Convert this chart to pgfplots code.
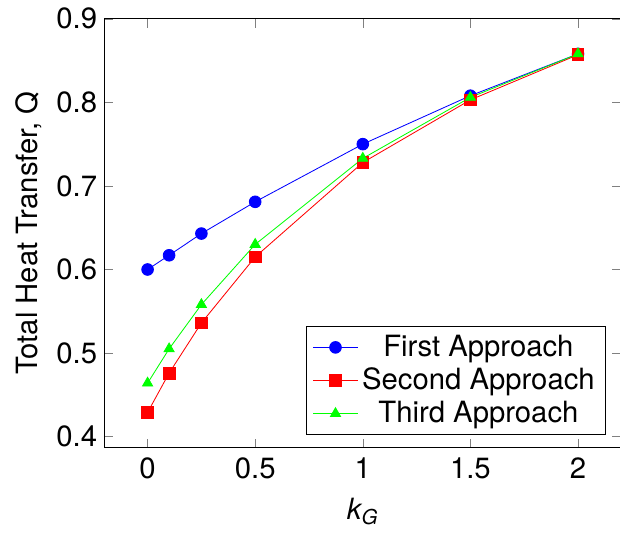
\documentclass[border=0pt]{standalone}
\usepackage{fontspec}
\setmainfont{TeX Gyre Heros}
\usepackage{pgfplots}
\pgfplotsset{compat=1.18}
\usetikzlibrary{calc}

\begin{document}
\begin{tikzpicture}[font=\fontsize{14}{17}\selectfont]
\begin{axis}[scale only axis,width=247pt,height=205pt,
  xmin=-0.2,xmax=2.2,ymin=0.387,ymax=0.9,
  xtick={0,0.5,1,1.5,2},ytick={0.4,0.5,0.6,0.7,0.8,0.9},
  /pgf/number format/assume math mode=true,
  tick label style={font=\fontsize{14}{17}\selectfont},
  label style={font=\fontsize{14}{17}\selectfont},
  x tick label style={yshift=-1.5pt},
  xlabel={\itshape k\textsubscript{G}},ylabel={Total Heat Transfer, Q},
  xlabel style={yshift=-2pt},
  legend pos=south east,legend cell align=center,
  legend style={font=\fontsize{14}{17}\selectfont},
  legend image code/.code={\draw[mark repeat=2,mark phase=2] plot coordinates {(0cm,0cm) (0.37cm,0cm) (0.74cm,0cm)};},
  mark size=2.8pt]
\addplot[blue,mark=*] coordinates {(0,0.600) (0.1,0.617) (0.25,0.643) (0.5,0.681) (1,0.750) (1.5,0.808) (2,0.858)};
\addplot[red,mark=square*] coordinates {(0,0.429) (0.1,0.476) (0.25,0.536) (0.5,0.615) (1,0.728) (1.5,0.803) (2,0.857)};
\addplot[green,mark=triangle*] coordinates {(0,0.464) (0.1,0.505) (0.25,0.558) (0.5,0.630) (1,0.733) (1.5,0.806) (2,0.858)};
\legend{First Approach,Second Approach,Third Approach}
\end{axis}
\pgfresetboundingbox
\path[use as bounding box] ($(current axis.south west)+(-50pt,-42pt)$) rectangle ($(current axis.north east)+(-0.5pt,9pt)$);
\end{tikzpicture}
\end{document}
